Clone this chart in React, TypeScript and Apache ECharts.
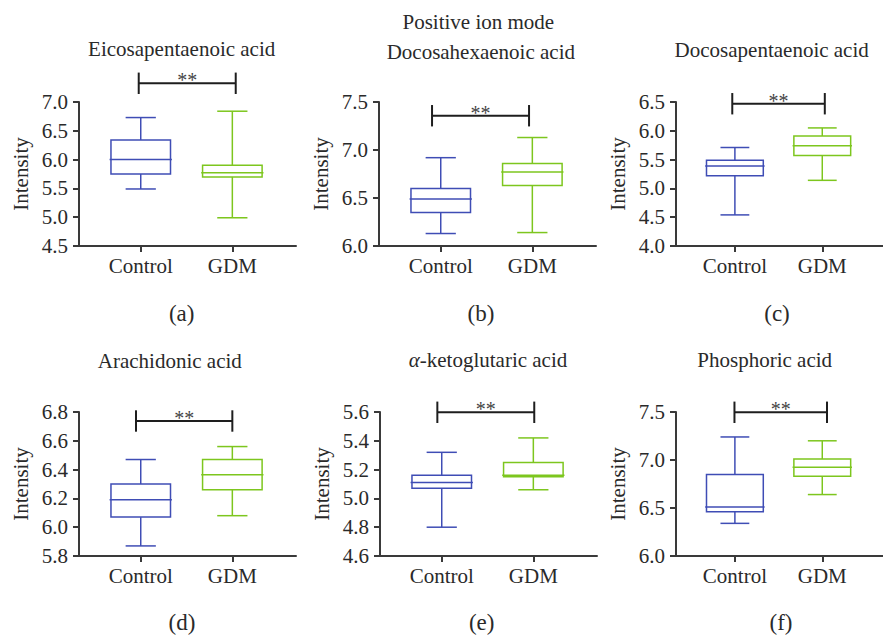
import React, { useEffect, useRef } from "react";
import * as echarts from "echarts";

// ---------- data ----------
const categories = ["Control", "GDM"];
const panelTitles = [
  "Eicosapentaenoic acid",
  "Docosahexaenoic acid",
  "Docosapentaenoic acid",
  "Arachidonic acid",
  "α-ketoglutaric acid",
  "Phosphoric acid",
];
const panelLetters = ["(a)", "(b)", "(c)", "(d)", "(e)", "(f)"];
const modeTitle = "Positive ion mode";
const yAxisName = "Intensity";
const significance = "**";

// [min, Q1, median, Q3, max]
const eicosaControl = [5.49, 5.75, 6.0, 6.34, 6.73];
const eicosaGDM = [4.99, 5.7, 5.77, 5.9, 6.84];
const dhaControl = [6.13, 6.35, 6.49, 6.6, 6.92];
const dhaGDM = [6.14, 6.63, 6.77, 6.86, 7.13];
const dpaControl = [4.54, 5.22, 5.39, 5.49, 5.71];
const dpaGDM = [5.14, 5.57, 5.74, 5.91, 6.05];
const araControl = [5.87, 6.07, 6.19, 6.3, 6.47];
const araGDM = [6.08, 6.26, 6.365, 6.47, 6.56];
const akgControl = [4.8, 5.07, 5.11, 5.16, 5.32];
const akgGDM = [5.06, 5.15, 5.16, 5.25, 5.42];
const phosControl = [6.34, 6.46, 6.51, 6.85, 7.24];
const phosGDM = [6.64, 6.83, 6.925, 7.01, 7.2];

// y-axis ranges [min, max, interval]
const yRanges = [
  [4.5, 7.0, 0.5],
  [6.0, 7.5, 0.5],
  [4.0, 6.5, 0.5],
  [5.8, 6.8, 0.2],
  [4.6, 5.6, 0.2],
  [6.0, 7.5, 0.5],
];

// significance brackets: [xStart, xEnd, yValue]
const brackets = [
  [0.978, 2.037, 7.325],
  [0.905, 1.964, 7.357],
  [0.97, 2.029, 6.47],
  [0.948, 2.0, 6.7375],
  [0.952, 2.01, 5.598],
  [0.995, 2.054, 7.497],
];

const panelData = [
  [eicosaControl, eicosaGDM],
  [dhaControl, dhaGDM],
  [dpaControl, dpaGDM],
  [araControl, araGDM],
  [akgControl, akgGDM],
  [phosControl, phosGDM],
];

// ---------- layout / style ----------
const FONT = '"Liberation Serif", "Times New Roman", serif';
const TEXT = "#2a2a2a";
const AXIS = "#3a3a3a";
const BOX_COLORS = ["#3f4db5", "#7dc61e"];
const X_MIN = 0.326;
const X_MAX = 2.695;
const BOX_HALF = 0.325;
const CAP_HALF = 0.165;
const gridLefts = [79, 379, 676, 79, 380, 676];
const gridTops = [102, 102, 102, 412, 412, 412];
const GRID_W = 217;
const GRID_H = 144;
const titlePos = [
  [181.7, 49],
  [480.8, 51.7],
  [771.7, 49.5],
  [169.8, 361],
  [488, 359.5],
  [764.7, 359.5],
];
const letterPos = [
  [181.7, 313],
  [481, 313],
  [777, 313],
  [182, 622],
  [481.7, 622],
  [781, 622],
];
const modePos = [478.3, 21.7];

function boxRender(params: any, api: any) {
  const x = api.value(0);
  const lo = api.value(1);
  const q1 = api.value(2);
  const med = api.value(3);
  const q3 = api.value(4);
  const hi = api.value(5);
  const color = BOX_COLORS[params.dataIndex % 2];
  const tl = api.coord([x - BOX_HALF, q3]);
  const br = api.coord([x + BOX_HALF, q1]);
  const mL = api.coord([x - BOX_HALF - 0.015, med]);
  const mR = api.coord([x + BOX_HALF + 0.015, med]);
  const c = api.coord([x, hi]);
  const cLo = api.coord([x, lo]);
  const capL = api.coord([x - CAP_HALF, hi]);
  const capR = api.coord([x + CAP_HALF, hi]);
  const capL2 = api.coord([x - CAP_HALF, lo]);
  const capR2 = api.coord([x + CAP_HALF, lo]);
  const st = { stroke: color, lineWidth: 1.5, fill: "none" };
  return {
    type: "group",
    children: [
      {
        type: "rect",
        shape: { x: tl[0], y: tl[1], width: br[0] - tl[0], height: br[1] - tl[1] },
        style: st,
      },
      { type: "line", shape: { x1: mL[0], y1: mL[1], x2: mR[0], y2: mR[1] }, style: st },
      { type: "line", shape: { x1: c[0], y1: c[1], x2: c[0], y2: tl[1] }, style: st },
      { type: "line", shape: { x1: capL[0], y1: capL[1], x2: capR[0], y2: capR[1] }, style: st },
      { type: "line", shape: { x1: cLo[0], y1: br[1], x2: cLo[0], y2: cLo[1] }, style: st },
      { type: "line", shape: { x1: capL2[0], y1: capL2[1], x2: capR2[0], y2: capR2[1] }, style: st },
    ],
  };
}

function bracketRender(params: any, api: any) {
  const p1 = api.coord([api.value(0), api.value(2)]);
  const p2 = api.coord([api.value(1), api.value(2)]);
  const st = { stroke: "#1e1e1e", lineWidth: 2 };
  const h = 10.7;
  return {
    type: "group",
    children: [
      { type: "line", shape: { x1: p1[0], y1: p1[1], x2: p2[0], y2: p2[1] }, style: st },
      { type: "line", shape: { x1: p1[0], y1: p1[1] - h, x2: p1[0], y2: p1[1] + h }, style: st },
      { type: "line", shape: { x1: p2[0], y1: p2[1] - h, x2: p2[0], y2: p2[1] + h }, style: st },
      {
        type: "text",
        x: (p1[0] + p2[0]) / 2,
        y: p1[1] - 3,
        style: {
          text: significance,
          font: `20px ${FONT}`,
          fill: "#444",
          align: "center",
          verticalAlign: "middle",
        },
      },
    ],
  };
}

function titleText(t: string) {
  return t.replace("α", "{it|α}");
}

export default function App() {
  const ref = useRef<HTMLDivElement>(null);
  useEffect(() => {
    if (!ref.current) return;
    const chart = echarts.init(ref.current, undefined, { renderer: "svg" });
    const grid: any[] = [];
    const xAxis: any[] = [];
    const yAxis: any[] = [];
    const series: any[] = [];
    const graphic: any[] = [];
    for (let i = 0; i < 6; i++) {
      grid.push({ left: gridLefts[i], top: gridTops[i], width: GRID_W, height: GRID_H, containLabel: false });
      xAxis.push({
        type: "value",
        gridIndex: i,
        min: X_MIN,
        max: X_MAX,
        axisLine: { show: true, lineStyle: { color: AXIS, width: 2 } },
        axisTick: { show: true, length: 6, customValues: [1, 2], lineStyle: { color: AXIS, width: 2 } },
        axisLabel: {
          show: true,
          customValues: [1, 2],
          margin: 9,
          color: TEXT,
          fontFamily: FONT,
          fontSize: 21,
          formatter: (v: number) => categories[Math.round(v) - 1] ?? "",
        },
        splitLine: { show: false },
      });
      yAxis.push({
        type: "value",
        gridIndex: i,
        min: yRanges[i][0],
        max: yRanges[i][1],
        interval: yRanges[i][2],
        name: yAxisName,
        nameLocation: "middle",
        nameGap: 48,
        nameTextStyle: { color: TEXT, fontFamily: FONT, fontSize: 21 },
        axisLine: { show: true, lineStyle: { color: AXIS, width: 2 } },
        axisTick: { show: true, length: 6, lineStyle: { color: AXIS, width: 2 } },
        axisLabel: {
          margin: 11,
          color: TEXT,
          fontFamily: FONT,
          fontSize: 21,
          formatter: (v: number) => v.toFixed(1),
        },
        splitLine: { show: false },
      });
      series.push({
        type: "custom",
        xAxisIndex: i,
        yAxisIndex: i,
        clip: false,
        renderItem: boxRender,
        encode: { x: 0, y: [1, 2, 3, 4, 5] },
        data: panelData[i].map((vals, k) => [k + 1, ...vals]),
      });
      series.push({
        type: "custom",
        xAxisIndex: i,
        yAxisIndex: i,
        clip: false,
        renderItem: bracketRender,
        encode: { x: [0, 1], y: 2 },
        data: [brackets[i]],
      });
      graphic.push({
        type: "text",
        x: titlePos[i][0],
        y: titlePos[i][1],
        style: {
          text: titleText(panelTitles[i]),
          font: `21px ${FONT}`,
          fill: TEXT,
          align: "center",
          verticalAlign: "middle",
          rich: {
            it: { fontFamily: FONT, fontSize: 21, fontStyle: "italic", fill: TEXT },
          },
        },
      });
      graphic.push({
        type: "text",
        x: letterPos[i][0],
        y: letterPos[i][1],
        style: {
          text: panelLetters[i],
          font: `23px ${FONT}`,
          fill: TEXT,
          align: "center",
          verticalAlign: "middle",
        },
      });
    }
    graphic.push({
      type: "text",
      x: modePos[0],
      y: modePos[1],
      style: {
        text: modeTitle,
        font: `21px ${FONT}`,
        fill: TEXT,
        align: "center",
        verticalAlign: "middle",
      },
    });
    chart.setOption({
      animation: false,
      backgroundColor: "#ffffff",
      grid,
      xAxis,
      yAxis,
      series,
      graphic,
    });
    return () => chart.dispose();
  }, []);
  return (
    <div
      ref={ref}
      style={{ position: "absolute", left: 0, top: 0, width: 883, height: 635 }}
    />
  );
}
